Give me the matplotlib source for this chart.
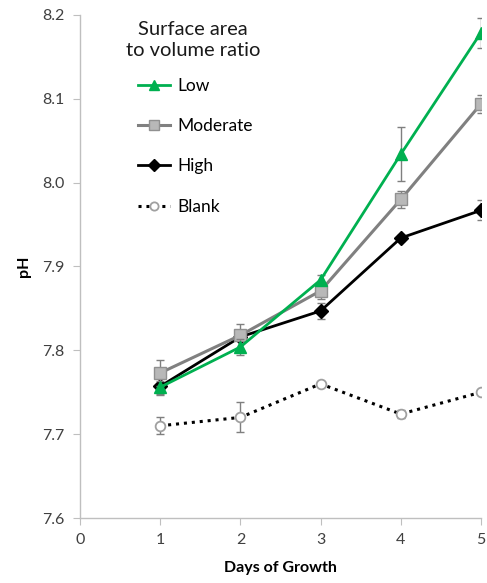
import matplotlib
matplotlib.use("Agg")
import matplotlib.pyplot as plt

plt.rcParams['font.family'] = ['Lato', 'DejaVu Sans']

days = [1, 2, 3, 4, 5]
low = [7.756, 7.804, 7.884, 8.034, 8.179]
low_err = [0.008, 0.010, 0.006, 0.032, 0.018]
moderate = [7.773, 7.818, 7.871, 7.980, 8.094]
moderate_err = [0.016, 0.005, 0.010, 0.010, 0.011]
high = [7.757, 7.816, 7.847, 7.934, 7.967]
high_err = [0.010, 0.016, 0.010, 0.004, 0.012]
blank = [7.710, 7.720, 7.760, 7.724, 7.750]
blank_err = [0.010, 0.018, 0.002, 0.005, 0.002]

xticks = [0, 1, 2, 3, 4, 5]
yticks = [7.6, 7.7, 7.8, 7.9, 8.0, 8.1, 8.2]

fig = plt.figure(figsize=(4.87, 5.83), dpi=100)
ax = fig.add_axes([80/487, 65/583, 401/487, 503/583])

ecol = '#7f7f7f'
ekw = dict(ecolor=ecol, elinewidth=1.0, capsize=3, capthick=1.0)

series = [
    ('Blank', blank, blank_err, dict(color='black', linestyle=(0, (1, 1.6)), linewidth=2.2,
            marker='o', markersize=7, markerfacecolor='white', markeredgecolor='#a0a0a0',
            markeredgewidth=1.3), 2),
    ('High', high, high_err, dict(color='black', linewidth=2.0,
            marker='D', markersize=7, markerfacecolor='black', markeredgecolor='black'), 3),
    ('Moderate', moderate, moderate_err, dict(color='#808080', linewidth=2.2,
            marker='s', markersize=8, markerfacecolor='#b8b8b8', markeredgecolor='#909090'), 4),
    ('Low', low, low_err, dict(color='#00b050', linewidth=2.0,
            marker='^', markersize=8, markerfacecolor='#00b050', markeredgecolor='#00b050'), 5),
]

handles = {}
for name, vals, err, style, z in series:
    ax.errorbar(days, vals, yerr=err, fmt='none', zorder=z, **ekw)
    line, = ax.plot(days, vals, label=name, zorder=z, **style)
    handles[name] = line

ax.set_xlim(0, 5)
ax.set_ylim(7.6, 8.2)
ax.set_xticks(xticks)
ax.set_yticks(yticks)
ax.set_yticklabels([f'{v:.1f}' for v in yticks])
ax.set_xticklabels([str(v) for v in xticks])

for s in ['top', 'right']:
    ax.spines[s].set_visible(False)
for s in ['left', 'bottom']:
    ax.spines[s].set_color('#bfbfbf')
    ax.spines[s].set_linewidth(1.0)
ax.tick_params(axis='both', direction='out', length=5, color='#bfbfbf', labelsize=11.5,
               labelcolor='#404040', pad=6)
ax.set_xlabel('Days of Growth', fontsize=11.5, fontweight='bold', labelpad=10)
ax.set_ylabel('pH', fontsize=11.5, fontweight='bold', labelpad=8)

order = ['Low', 'Moderate', 'High', 'Blank']
leg = ax.legend([handles[n] for n in order], order, loc='upper left',
                bbox_to_anchor=(0.127, 0.889), frameon=False, fontsize=12.5,
                handlelength=1.85, labelspacing=1.4,
                handletextpad=0.45, borderaxespad=0.0, markerscale=0.85)
fig.text(193/487, 1 - 40/583, 'Surface area\nto volume ratio', ha='center', va='center',
         fontsize=14.5, linespacing=1.3, color='#1a1a1a')

fig.savefig('out.png', dpi=100)
